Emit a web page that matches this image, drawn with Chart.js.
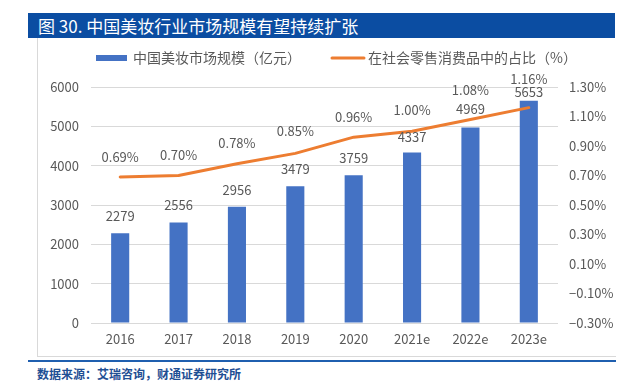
<!DOCTYPE html>
<html>
<head>
<meta charset="utf-8">
<script src="https://cdn.jsdelivr.net/npm/chart.js@4"></script>
<style>
  html, body { margin:0; padding:0; background:#fff; }
  body { width:625px; height:390px; position:relative; overflow:hidden; font-family:"Noto Sans CJK SC","Noto Sans",sans-serif; }
  #titlebar { position:absolute; left:28px; top:13px; width:587px; height:25px; background:#0B4DA2; }
  #title { position:absolute; left:38px; top:13px; height:25px; line-height:25px; color:#fff; font-size:17px; white-space:nowrap; }
  #frame { position:absolute; left:37px; top:38px; width:578px; height:318px; border-left:1px solid #d9d9d9; border-bottom:1px solid #d9d9d9; }
  #rule { position:absolute; left:28px; top:360px; width:588px; height:2px; background:#1F5FAF; }
  #source { position:absolute; left:37px; top:366px; font-size:12px; line-height:16px; font-weight:bold; color:#1F4F94; white-space:nowrap; }
  #wrap { position:absolute; left:0; top:0; width:625px; height:390px; }
</style>
</head>
<body>
<div id="titlebar"></div>
<div id="title">图 30. 中国美妆行业市场规模有望持续扩张</div>
<div id="frame"></div>
<div id="rule"></div>
<div id="source">数据来源：艾瑞咨询，财通证券研究所</div>
<div id="wrap"><canvas id="c" width="625" height="390"></canvas></div>
<script>
const categories = ['2016','2017','2018','2019','2020','2021e','2022e','2023e'];
const marketSize = [2279, 2556, 2956, 3479, 3759, 4337, 4969, 5653];
const shareOfRetail = [0.69, 0.70, 0.78, 0.85, 0.96, 1.00, 1.08, 1.16];
const leftTicks = [0, 1000, 2000, 3000, 4000, 5000, 6000];
const rightTicks = [-0.30, -0.10, 0.10, 0.30, 0.50, 0.70, 0.90, 1.10, 1.30];
const seriesNames = ['中国美妆市场规模（亿元）', '在社会零售消费品中的占比（%）'];

const FONT = '"Noto Sans CJK SC","Noto Sans",sans-serif';
const GREY = '#595959';
const BLUE = '#4472C4';
const ORANGE = '#ED7D31';

const labelPlugin = {
  id: 'valueLabels',
  afterDatasetsDraw(chart, args, opts) {
    const ctx = chart.ctx;
    ctx.save();
    ctx.font = '13px ' + FONT;
    ctx.fillStyle = GREY;
    ctx.textAlign = 'center';
    ctx.textBaseline = 'middle';
    const barMeta = chart.getDatasetMeta(0);
    barMeta.data.forEach((el, i) => {
      const off = (opts.barOffsets && opts.barOffsets[i] != null) ? opts.barOffsets[i] : 17;
      ctx.fillText(String(marketSize[i]), el.x, el.y - off);
    });
    const lineMeta = chart.getDatasetMeta(1);
    lineMeta.data.forEach((el, i) => {
      const off = (opts.lineOffsets && opts.lineOffsets[i] != null) ? opts.lineOffsets[i] : 20;
      ctx.fillText(shareOfRetail[i].toFixed(2) + '%', el.x, el.y - off);
    });
    ctx.restore();
  }
};

const legendPlugin = {
  id: 'customLegend',
  afterDraw(chart) {
    const ctx = chart.ctx;
    ctx.save();
    ctx.font = '14px ' + FONT;
    ctx.textBaseline = 'middle';
    const y = 58;
    ctx.fillStyle = BLUE;
    ctx.fillRect(96, y - 3, 31, 6);
    ctx.fillStyle = GREY;
    ctx.fillText(seriesNames[0], 133, y);
    ctx.strokeStyle = ORANGE;
    ctx.lineWidth = 3;
    ctx.lineCap = 'round';
    ctx.beginPath();
    ctx.moveTo(332, y);
    ctx.lineTo(364, y);
    ctx.stroke();
    ctx.fillText(seriesNames[1], 368, y);
    ctx.restore();
  }
};

new Chart(document.getElementById('c'), {
  data: {
    labels: categories,
    datasets: [
      {
        type: 'bar',
        label: seriesNames[0],
        data: marketSize,
        backgroundColor: BLUE,
        yAxisID: 'y',
        barPercentage: 0.31,
        categoryPercentage: 1.0,
        order: 2
      },
      {
        type: 'line',
        label: seriesNames[1],
        data: shareOfRetail,
        borderColor: ORANGE,
        backgroundColor: ORANGE,
        borderWidth: 3,
        pointRadius: 0,
        tension: 0,
        yAxisID: 'y1',
        borderCapStyle: 'round',
        borderJoinStyle: 'round',
        order: 1
      }
    ]
  },
  options: {
    responsive: false,
    animation: false,
    devicePixelRatio: 1,
    layout: { padding: { top: 87, bottom: 0, left: 0, right: 0 } },
    plugins: {
      legend: { display: false },
      tooltip: { enabled: false },
      valueLabels: {
        barOffsets: [17, 17, 17, 17, 17, 15, 18, 9],
        lineOffsets: [20, 20, 21, 22, 20, 21, 29, 29]
      }
    },
    scales: {
      x: {
        grid: { display: false, drawTicks: false },
        border: { display: false },
        ticks: { color: GREY, font: { family: FONT, size: 13 }, padding: 8, maxRotation: 0 },
        afterFit(s) { s.height = 67; }
      },
      y: {
        position: 'left',
        min: 0, max: 6000,
        afterBuildTicks(s) { s.ticks = leftTicks.map(v => ({ value: v })); },
        grid: { color: '#d9d9d9', lineWidth: 1, drawTicks: false },
        border: { display: false },
        ticks: { color: GREY, font: { family: FONT, size: 13 }, padding: 12, callback: v => String(v) },
        afterFit(s) { s.width = 91; }
      },
      y1: {
        position: 'right',
        min: -0.3, max: 1.3,
        afterBuildTicks(s) { s.ticks = rightTicks.map(v => ({ value: v })); },
        grid: { display: false, drawTicks: false },
        border: { display: false },
        ticks: {
          color: GREY, font: { family: FONT, size: 13 }, padding: 11,
          callback: v => (Math.abs(v) < 1e-9 ? 0 : v).toFixed(2).replace('-', '−') + '%'
        },
        afterFit(s) { s.width = 67; }
      }
    }
  },
  plugins: [labelPlugin, legendPlugin]
});
</script>
</body>
</html>
